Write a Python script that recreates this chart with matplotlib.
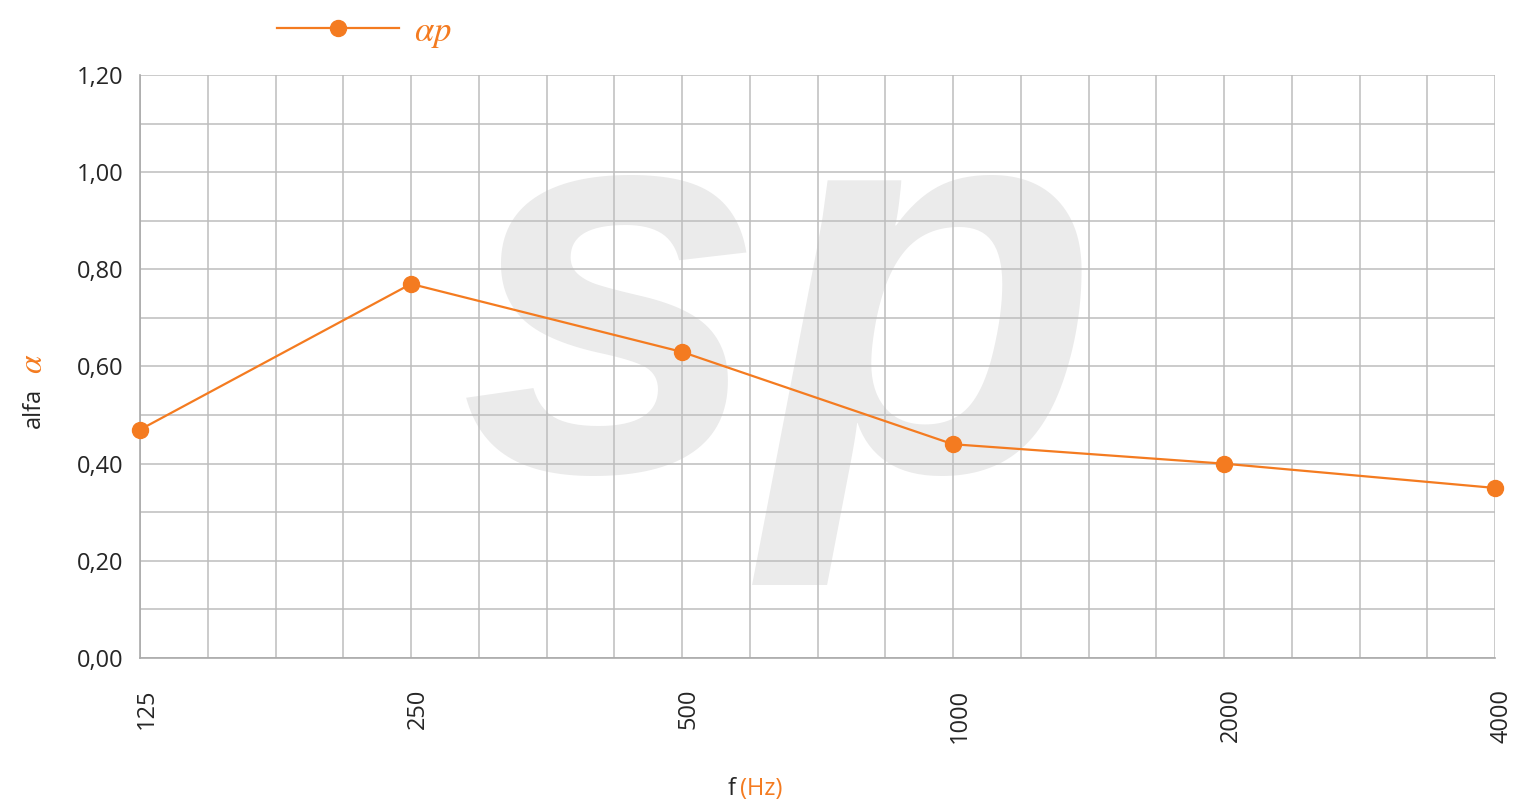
import numpy as np
import matplotlib
matplotlib.use('Agg')
import matplotlib.pyplot as plt
import matplotlib.transforms as mtransforms

ORANGE = '#f47b20'
TXT = '#262626'
GRID = '#bdbdbd'

freqs = ['125', '250', '500', '1000', '2000', '4000']
alpha_p = [0.47, 0.77, 0.63, 0.44, 0.40, 0.35]

plt.rcParams['font.family'] = ['Open Sans', 'DejaVu Sans']
plt.rcParams['mathtext.fontset'] = 'stix'

fig = plt.figure(figsize=(15.31, 8.08), dpi=100)
ax = fig.add_axes([140/1531, 1-658/808, (1495-140)/1531, (658-75)/808])

# octave bands on an even scale, 4 grid cells per octave
xpos = np.arange(len(freqs)) * 4
ax.set_xlim(0, xpos[-1])
ax.set_ylim(0, 1.2)

ax.set_xticks(xpos)
ax.set_xticklabels(freqs, rotation=90, va='top')
ax.set_xticks(np.arange(0, xpos[-1] + 1), minor=True)
yt = np.arange(0, 1.21, 0.2)
ax.set_yticks(yt)
ax.set_yticklabels([('%.2f' % v).replace('.', ',') for v in yt])
ax.set_yticks(np.arange(0, 1.21, 0.1), minor=True)

ax.tick_params(which='both', length=0)
ax.tick_params(axis='y', pad=12, labelsize=17, colors=TXT)
ax.tick_params(axis='x', pad=22, labelsize=17, colors=TXT)
# labels sit a little right of their grid line in the original
shift = mtransforms.ScaledTranslation(7/100, 0, fig.dpi_scale_trans)
for lab in ax.get_xticklabels():
    lab.set_transform(lab.get_transform() + shift)

ax.set_axisbelow(True)
ax.grid(True, which='both', color=GRID, linewidth=1.1)
for s in ['top', 'right']:
    ax.spines[s].set_visible(False)
for s in ['left', 'bottom']:
    ax.spines[s].set_color('#aaaaaa')
    ax.spines[s].set_linewidth(1.2)

# watermark
ax.text(0.472, 0.565, 'sp', transform=ax.transAxes, ha='center', va='center',
        fontsize=395, fontweight='bold', fontstyle='italic',
        family='Liberation Sans', color='#ebebeb', zorder=0.1)

ax.plot(xpos, alpha_p, color=ORANGE, linewidth=1.6, marker='o',
        markersize=11.5, clip_on=False, zorder=5, label=r'$\alpha p$')

leg = fig.legend(loc='center left', bbox_to_anchor=(277/1531, 1-32/808),
                 frameon=False, fontsize=25, handlelength=3.5,
                 handletextpad=0.45, borderpad=0, borderaxespad=0)
for t in leg.get_texts():
    t.set_color(ORANGE)

# y label
fig.text(34/1531, 1-428/808, 'alfa', rotation=90, ha='center', va='bottom',
         fontsize=17, color=TXT)
fig.text(34/1531, 1-374/808, r'$\alpha$', rotation=90, ha='center', va='bottom',
         fontsize=24, color=ORANGE)

# x label
fig.text(736/1531, 1-789/808, 'f', ha='right', va='center', fontsize=17, color=TXT)
fig.text(740/1531, 1-789/808, '(Hz)', ha='left', va='center', fontsize=17, color=ORANGE)

fig.savefig('out.png', dpi=100)
